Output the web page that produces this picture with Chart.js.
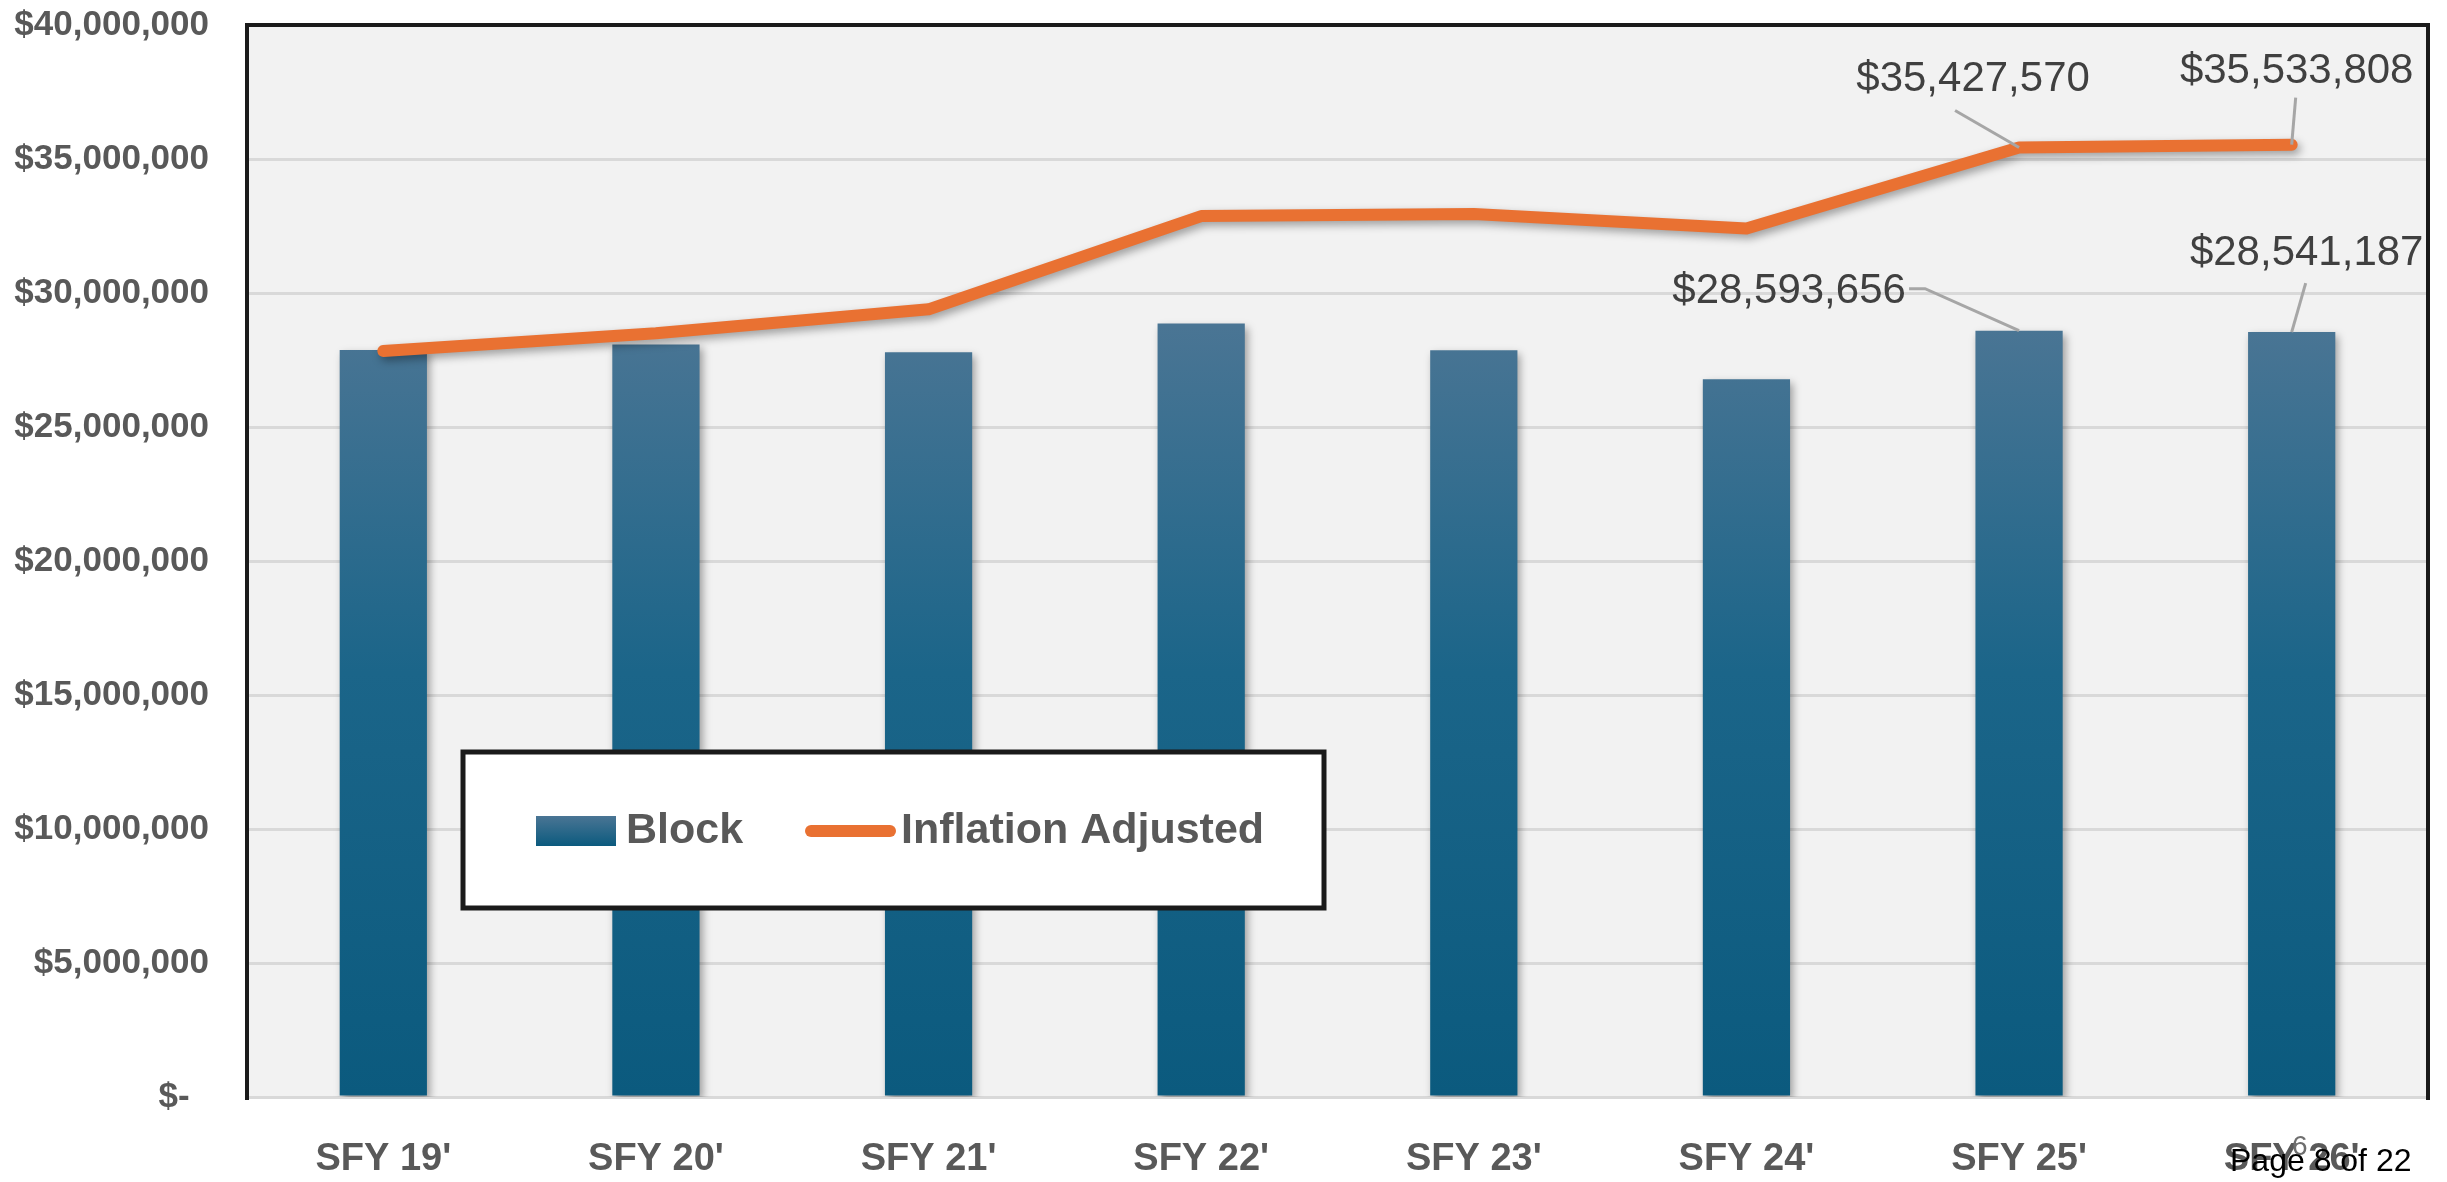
<!DOCTYPE html>
<html>
<head>
<meta charset="utf-8">
<script src="https://cdn.jsdelivr.net/npm/chart.js@4.4.1/dist/chart.umd.min.js"></script>
<style>
  html, body { margin: 0; padding: 0; background: #ffffff; }
  canvas { display: block; }
</style>
</head>
<body>
<canvas id="trendChart" width="2447" height="1182"></canvas>
<script>
// =========================
// DATA
// =========================
const categories = ["SFY 19'", "SFY 20'", "SFY 21'", "SFY 22'", "SFY 23'", "SFY 24'", "SFY 25'", "SFY 26'"];
const blockValues = [27870000, 28080000, 27790000, 28860000, 27860000, 26780000, 28593656, 28541187];
const inflationValues = [27840000, 28500000, 29390000, 32870000, 32950000, 32410000, 35427570, 35533808];
const yTicks = [0, 5000000, 10000000, 15000000, 20000000, 25000000, 30000000, 35000000, 40000000];

const FONT = "'Liberation Sans', Arial, sans-serif";
const GREY_TEXT = "#595959";
const ORANGE = "#e97132";

function money(v) {
    if (v === 0) return "$-  ";
    return "$" + v.toLocaleString("en-US");
}

// bar fill (dark teal gradient, lighter on top)
function barGradient(context) {
    const chart = context.chart;
    const area = chart.chartArea;
    if (!area) return "#15648a";
    const y = chart.scales.y;
    const g = chart.ctx.createLinearGradient(0, y.getPixelForValue(28800000), 0, area.bottom);
    g.addColorStop(0, "#4a7594");
    g.addColorStop(0.45, "#1b6589");
    g.addColorStop(1, "#0b5a7e");
    return g;
}

// =========================
// PLUGINS
// =========================

// grey plot area + black frame
const plotFrame = {
    id: "plotFrame",
    beforeDraw(chart) {
        const { ctx, chartArea: a } = chart;
        ctx.save();
        ctx.fillStyle = "#f2f2f2";
        ctx.fillRect(a.left, a.top, a.right - a.left, a.bottom - a.top);
        ctx.restore();
    },
    beforeDatasetsDraw(chart) {
        const { ctx, chartArea: a } = chart;
        ctx.save();
        ctx.strokeStyle = "#1a1a1a";
        ctx.lineWidth = 4;
        ctx.beginPath();
        ctx.moveTo(a.left, a.bottom + 3);
        ctx.lineTo(a.left, a.top);
        ctx.lineTo(a.right, a.top);
        ctx.lineTo(a.right, a.bottom + 3);
        ctx.stroke();
        ctx.restore();
    }
};

// soft drop shadow on bars and line
const softShadow = {
    id: "softShadow",
    beforeDatasetDraw(chart) {
        const ctx = chart.ctx;
        ctx.save();
        ctx.shadowColor = "rgba(0,0,0,0.35)";
        ctx.shadowBlur = 8;
        ctx.shadowOffsetX = 3;
        ctx.shadowOffsetY = 4;
    },
    afterDatasetDraw(chart) {
        chart.ctx.restore();
    }
};

// value labels with leader lines (offsets relative to the point)
const calloutLabels = {
    id: "calloutLabels",
    afterDatasetsDraw(chart, args, opts) {
        const ctx = chart.ctx;
        ctx.save();
        ctx.font = "400 42px " + FONT;
        ctx.textAlign = "center";
        ctx.textBaseline = "middle";
        opts.items.forEach(item => {
            const el = chart.getDatasetMeta(item.dataset).data[item.index];
            const value = chart.data.datasets[item.dataset].data[item.index];
            const px = el.x, py = el.y;

            ctx.strokeStyle = "#a6a6a6";
            ctx.lineWidth = 3;
            ctx.beginPath();
            ctx.moveTo(px + item.leader[0][0], py + item.leader[0][1]);
            item.leader.slice(1).forEach(p => ctx.lineTo(px + p[0], py + p[1]));
            ctx.lineTo(px, py);
            ctx.stroke();

            ctx.fillStyle = "#404040";
            ctx.fillText(money(value), px + item.dx, py + item.dy);
        });
        ctx.restore();
    }
};

// boxed legend inside the plot
const boxLegend = {
    id: "boxLegend",
    afterDraw(chart) {
        const ctx = chart.ctx;
        const ds = chart.data.datasets;
        ctx.save();
        ctx.fillStyle = "#ffffff";
        ctx.fillRect(463, 752, 861, 156);
        ctx.strokeStyle = "#1a1a1a";
        ctx.lineWidth = 5;
        ctx.strokeRect(463, 752, 861, 156);

        const midY = 831;
        const g = ctx.createLinearGradient(0, 816, 0, 846);
        g.addColorStop(0, "#4a7594");
        g.addColorStop(1, "#0b5a7e");
        ctx.fillStyle = g;
        ctx.fillRect(536, 816, 80, 30);

        ctx.strokeStyle = ORANGE;
        ctx.lineWidth = 12;
        ctx.lineCap = "round";
        ctx.beginPath();
        ctx.moveTo(811, midY);
        ctx.lineTo(890, midY);
        ctx.stroke();

        ctx.fillStyle = GREY_TEXT;
        ctx.font = "bold 43px " + FONT;
        ctx.textAlign = "left";
        ctx.textBaseline = "middle";
        ctx.fillText(ds[1].label, 626, midY);
        ctx.fillText(ds[0].label, 901, midY);
        ctx.restore();
    }
};

// page footer that overlaps the last axis label
const pageFooter = {
    id: "pageFooter",
    afterDraw(chart) {
        const ctx = chart.ctx;
        ctx.save();
        ctx.textBaseline = "alphabetic";
        ctx.textAlign = "left";
        ctx.fillStyle = "#6e6e6e";
        ctx.font = "28px " + FONT;
        ctx.fillText("6", 2292, 1155);
        ctx.fillStyle = "#000000";
        ctx.font = "32px " + FONT;
        ctx.fillText("Page 8 of 22", 2230, 1171);
        ctx.restore();
    }
};

// =========================
// CHART
// =========================
const ctx = document.getElementById("trendChart").getContext("2d");

const chartInstance = new Chart(ctx, {
    data: {
        labels: categories,
        datasets: [
            {
                type: "line",
                label: "Inflation Adjusted",
                data: inflationValues,
                borderColor: ORANGE,
                backgroundColor: ORANGE,
                borderWidth: 12,
                borderCapStyle: "round",
                borderJoinStyle: "round",
                pointRadius: 0,
                tension: 0,
                order: 0
            },
            {
                type: "bar",
                label: "Block",
                data: blockValues,
                backgroundColor: barGradient,
                borderWidth: 0,
                barPercentage: 0.64,
                categoryPercentage: 0.5,
                order: 1
            }
        ]
    },
    options: {
        responsive: false,
        animation: false,
        devicePixelRatio: 1,
        layout: { padding: { top: 25, right: 19, bottom: 0, left: 0 } },
        plugins: {
            legend: { display: false },
            tooltip: { enabled: false },
            calloutLabels: {
                items: [
                    { dataset: 0, index: 6, dx: -46, dy: -68, leader: [[-64, -37]] },
                    { dataset: 0, index: 7, dx: 5, dy: -73, leader: [[4, -47]] },
                    { dataset: 1, index: 6, dx: -230, dy: -39, leader: [[-110, -42], [-94, -42]] },
                    { dataset: 1, index: 7, dx: 15, dy: -79, leader: [[14, -49]] }
                ]
            }
        },
        scales: {
            x: {
                offset: true,
                grid: { display: false, drawTicks: false },
                border: { display: false },
                ticks: {
                    color: GREY_TEXT,
                    font: { family: FONT, size: 38, weight: "bold" },
                    padding: 40,
                    maxRotation: 0
                },
                afterFit(scale) { scale.height = 85; }
            },
            y: {
                min: 0,
                max: 40000000,
                afterBuildTicks(scale) { scale.ticks = yTicks.map(v => ({ value: v })); },
                grid: { color: "#d9d9d9", lineWidth: 3, drawTicks: false },
                border: { display: false },
                ticks: {
                    color: GREY_TEXT,
                    font: { family: FONT, size: 35, weight: "bold" },
                    padding: 38,
                    callback: v => money(v)
                },
                afterFit(scale) {
                    scale.width = 247;
                    scale.paddingTop = 0;
                    scale.paddingBottom = 0;
                }
            }
        }
    },
    plugins: [plotFrame, softShadow, calloutLabels, boxLegend, pageFooter]
});
</script>
</body>
</html>
